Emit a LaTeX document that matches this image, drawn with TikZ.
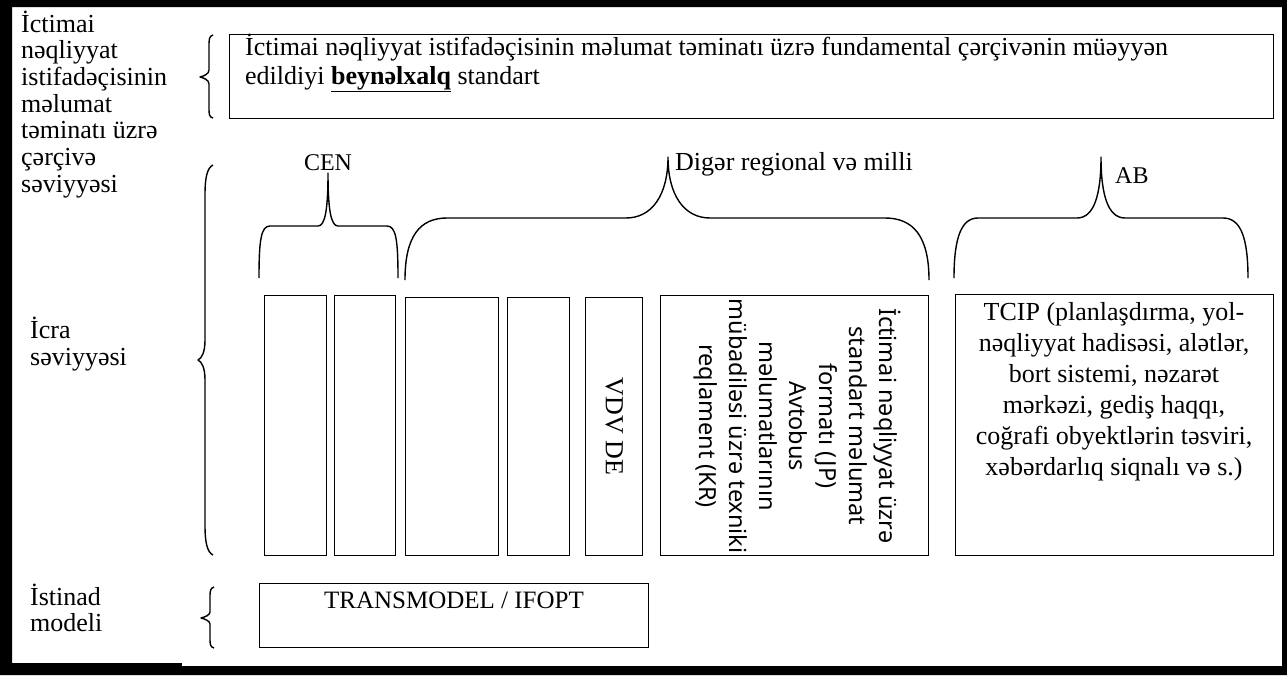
\documentclass[tikz,border=0pt]{standalone}
\usepackage{fontspec}
\setmainfont{Liberation Serif}
\newfontfamily\sansnoto{Noto Sans}
% stacked lines whose baseline is the baseline of the first line
\newcommand\rowsl[1]{\begin{tabular}[t]{@{}l@{}}#1\end{tabular}}
\newcommand\rowsc[1]{\begin{tabular}[t]{@{}c@{}}#1\end{tabular}}

\begin{document}
\begin{tikzpicture}[x=1pt,y=-1pt,
  box/.style={draw, line width=1.4pt, inner sep=0pt, anchor=north west},
  brace/.style={line width=1.4pt, line join=round},
  lbl/.style={inner sep=0pt, font=\fontsize{26}{26.7}\selectfont},
]
\useasboundingbox (0,0) rectangle (1287,675);

% heavy outer frame
\fill[even odd rule] (0,0) rectangle (1287,675) (12,7) rectangle (1282,666);
\fill (12,663) rectangle (182,666);

% level labels on the left
\node[lbl, anchor=base west] (lvlframe) at (21,32)
  {\rowsl{İctimai\\ nəqliyyat\\ istifadəçisinin\\ məlumat\\ təminatı üzrə\\ çərçivə\\ səviyyəsi}};
\node[lbl, anchor=base west, font=\fontsize{26}{27}\selectfont] (lvlexec) at (30,338)
  {\rowsl{İcra\\ səviyyəsi}};
\node[lbl, anchor=base west, font=\fontsize{26}{26}\selectfont] (lvlref) at (30,605)
  {\rowsl{İstinad\\ modeli}};

% international standard
\node[box, minimum width=1044pt, minimum height=84pt] (top) at (229,34) {};
\node[lbl, anchor=base west, font=\fontsize{26}{29}\selectfont] (toptext) at (245,55)
  {\rowsl{İctimai nəqliyyat istifadəçisinin məlumat təminatı üzrə fundamental çərçivənin müəyyən\\
   edildiyi \textbf{\underline{beynəlxalq}} standart}};

% implementation level columns
\node[box, minimum width=62pt, minimum height=260pt] (b1) at (264,295) {};
\node[box, minimum width=61pt, minimum height=260pt] (b2) at (334,295) {};
\node[box, minimum width=93pt, minimum height=258pt] (b3) at (405,297) {};
\node[box, minimum width=62pt, minimum height=258pt] (b4) at (507,297) {};
\node[box, minimum width=57pt, minimum height=258pt] (b5) at (585,297) {};
\node[box, minimum width=268pt, minimum height=260pt] (b6) at (660,295) {};
\node[box, minimum width=318pt, minimum height=261pt] (b7) at (955,294) {};

\node[lbl, rotate=-90] (vdv) at (b5.center) {VDV DE};
\node[inner sep=0pt, rotate=-90, align=center,
      font=\sansnoto\fontsize{23.5}{30}\selectfont] (jpkr) at (797,426)
  {İctimai nəqliyyat üzrə\\ standart məlumat\\ formatı (JP)\\ Avtobus\\ məlumatlarının\\
   mübadiləsi üzrə texniki\\ reqlament (KR)};
\node[lbl, anchor=base, font=\fontsize{26}{31}\selectfont] (tcip) at (1114,320)
  {\rowsc{TCIP (planlaşdırma, yol-\\ nəqliyyat hadisəsi, alətlər,\\ bort sistemi, nəzarət\\
   mərkəzi, gediş haqqı,\\ coğrafi obyektlərin təsviri,\\ xəbərdarlıq siqnalı və s.)}};

% reference model
\node[box, minimum width=389pt, minimum height=64pt] (trans) at (259,583) {};
\node[lbl, anchor=base, font=\fontsize{25}{26}\selectfont] (transtext) at (454,608) {TRANSMODEL / IFOPT};

% group labels
\node[lbl, anchor=base, font=\fontsize{24}{26}\selectfont] (cen) at (328,170) {CEN};
\node[lbl, anchor=base west] (other) at (675,170) {Digər regional və milli};
\node[lbl, anchor=base west, font=\fontsize{24}{26}\selectfont] (ab) at (1115,183) {AB};

% group braces over the columns
\draw[brace] (259,278) .. controls (259,240) and (261,226) .. (270,226) -- (318,226)
  .. controls (325,226) and (328,210) .. (328,173)
  .. controls (328,210) and (331,226) .. (338,226) -- (387,226)
  .. controls (396,226) and (398,240) .. (398,278);
\draw[brace] (405,280) .. controls (405,236) and (420,218) .. (447,218) -- (626,218)
  .. controls (652,218) and (668,195) .. (668,157)
  .. controls (668,195) and (684,218) .. (710,218) -- (885,218)
  .. controls (913,218) and (929,236) .. (929,280);
\draw[brace] (954,278) .. controls (954,236) and (962,218) .. (978,218) -- (1077,218)
  .. controls (1094,218) and (1101,195) .. (1101,157)
  .. controls (1101,195) and (1108,218) .. (1125,218) -- (1223,218)
  .. controls (1240,218) and (1248,236) .. (1248,278);

% level braces on the left
\draw[brace] (213,35) .. controls (209,36) and (209,40) .. (209,46) -- (209,70)
  .. controls (209,74) and (204,76) .. (200,77)
  .. controls (204,78) and (209,80) .. (209,84) -- (209,108)
  .. controls (209,114) and (209,117) .. (213,118);
\draw[brace] (213,165) .. controls (207,168) and (205,178) .. (205,195) -- (205,340)
  .. controls (205,352) and (202,358) .. (198,360)
  .. controls (202,362) and (205,368) .. (205,380) -- (205,525)
  .. controls (205,542) and (207,552) .. (213,555);
\draw[brace] (214,587) .. controls (210,588) and (210,592) .. (210,597) -- (210,612)
  .. controls (210,615) and (205,617) .. (201,618)
  .. controls (205,619) and (210,621) .. (210,624) -- (210,638)
  .. controls (210,644) and (210,647) .. (214,648);
\end{tikzpicture}
\end{document}
